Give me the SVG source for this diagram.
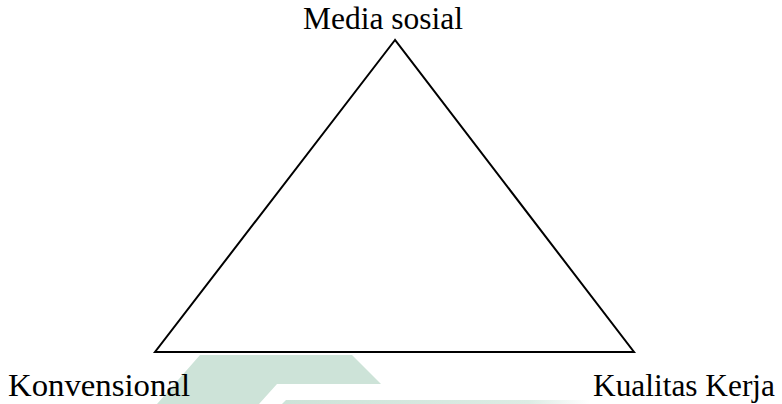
<svg xmlns="http://www.w3.org/2000/svg" width="782" height="404" viewBox="0 0 782 404">
<style>
.lbl{font-family:"Liberation Serif","Times New Roman",serif;font-size:31px;fill:#000}
.wm{fill:#cde3d8}
</style>
<defs>
<linearGradient id="band" x1="0" y1="0" x2="1" y2="0">
<stop offset="0" stop-color="#cde3d8"/>
<stop offset="0.8" stop-color="#dcece4"/>
<stop offset="1" stop-color="#ffffff"/>
</linearGradient>
</defs>
<rect width="782" height="404" fill="#fff"/>
<g id="watermark">
<polygon class="wm" points="200,355 352,355 381,384 277,384 259,404 157,404"/>
<polygon fill="url(#band)" points="286,400 590,400 590,404 282,404"/>
</g>
<g id="connectors">
<polygon points="395,40 155,352 634,352" fill="none" stroke="#000" stroke-width="2" stroke-linejoin="miter"/>
</g>
<g id="node-media">
<text class="lbl" x="303" y="29" textLength="160" lengthAdjust="spacingAndGlyphs">Media sosial</text>
</g>
<g id="node-konvensional">
<text class="lbl" x="8" y="396" textLength="182" lengthAdjust="spacingAndGlyphs">Konvensional</text>
</g>
<g id="node-kualitas">
<text class="lbl" x="593" y="396" textLength="182" lengthAdjust="spacingAndGlyphs">Kualitas Kerja</text>
</g>
</svg>
